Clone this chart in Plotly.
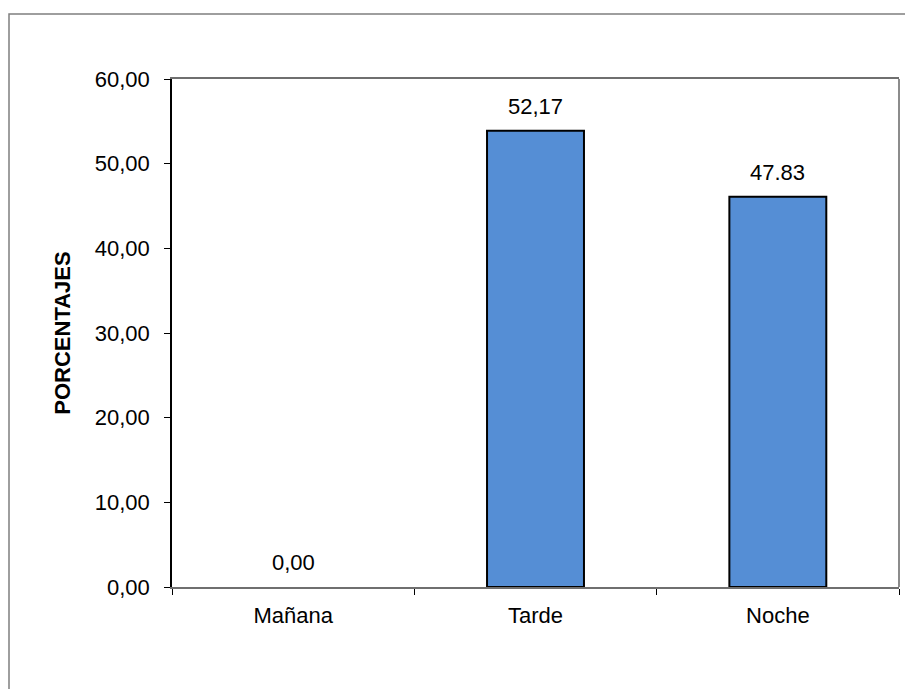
import plotly.graph_objects as go

# Turnos y porcentajes
turnos = ["Mañana", "Tarde", "Noche"]
alturas = [0.0, 53.9, 46.1]
etiquetas = ["0,00", "52,17", "47.83"]
y_ticks = [0, 10, 20, 30, 40, 50, 60]
y_ticktext = ["0,00", "10,00", "20,00", "30,00", "40,00", "50,00", "60,00"]

# la página tiene un margen de 8 px en el body
W, H = 905, 681
LEFT, RIGHT, TOP, BOTTOM = 164, 14, 71, 102
pw = W - LEFT - RIGHT
ph = H - TOP - BOTTOM

fig = go.Figure(go.Bar(
    x=turnos, y=alturas, width=0.4,
    marker=dict(color="#558ED5", line=dict(color="black", width=[0, 2, 2])),
    hoverinfo="x+y",
))

# etiquetas de datos
for t, v, lab in zip(turnos, alturas, etiquetas):
    fig.add_annotation(x=t, y=v, text=lab, showarrow=False, yanchor="bottom",
                       yshift=10, font=dict(size=22, color="black"))

fig.update_layout(
    width=W, height=H,
    margin=dict(l=LEFT, r=RIGHT, t=TOP, b=BOTTOM),
    plot_bgcolor="white", paper_bgcolor="white",
    font=dict(family="Liberation Sans, Arial", size=22, color="black"),
    showlegend=False,
    shapes=[
        # borde exterior del gráfico
        dict(type="rect", xref="paper", yref="paper",
             x0=(1 - LEFT) / pw, x1=1.2, y0=-0.5, y1=(H - BOTTOM - 6) / ph,
             line=dict(color="#7f7f7f", width=1.5), layer="below"),
        # borde derecho del área de trazado
        dict(type="line", xref="paper", yref="paper", x0=1, x1=1, y0=0, y1=1,
             line=dict(color="#8c8c8c", width=2)),
    ],
)
fig.update_xaxes(
    showline=True, linecolor="#6f6f6f", linewidth=2, mirror=True,
    ticks="outside", ticklen=6, tickcolor="black", tickson="boundaries",
    showgrid=False, tickfont=dict(size=22), ticklabelstandoff=8,
)
fig.update_yaxes(
    range=[0, 60], tickvals=y_ticks, ticktext=y_ticktext,
    showline=True, linecolor="black", linewidth=1.5,
    ticks="outside", ticklen=6, tickcolor="black",
    showgrid=False, zeroline=False, tickfont=dict(size=22),
    ticklabelstandoff=10,
    title=dict(text="<b>PORCENTAJES</b>", font=dict(size=22), standoff=18),
)

fig.write_html("out.html")
